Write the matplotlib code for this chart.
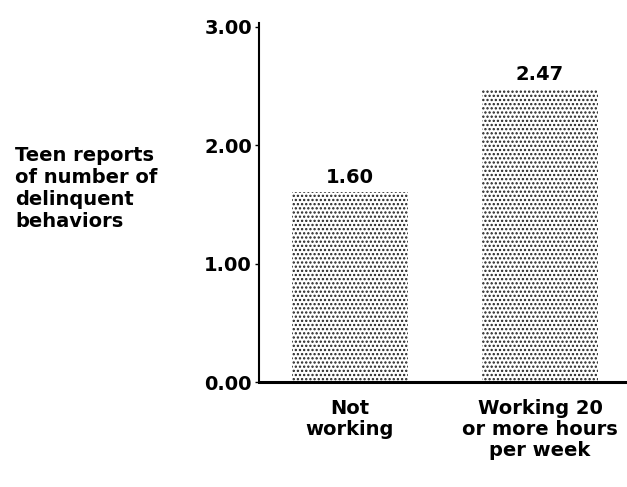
import matplotlib
matplotlib.use("Agg")
import matplotlib.pyplot as plt

categories = ["Not\nworking", "Working 20\nor more hours\nper week"]
values = [1.60, 2.47]
value_labels = ["1.60", "2.47"]
yticks = [0.0, 1.0, 2.0, 3.0]
ytick_labels = ["0.00", "1.00", "2.00", "3.00"]
ylabel = "Teen reports\nof number of\ndelinquent\nbehaviors"

plt.rcParams['font.family'] = ['DejaVu Sans']
plt.rcParams['font.weight'] = 'bold'
plt.rcParams['hatch.linewidth'] = 1.1
plt.rcParams['hatch.color'] = '#222222'

FS = 14

fig = plt.figure(figsize=(6.27, 4.87), dpi=100)
ax = fig.add_axes([0.413, 0.2156, 0.587, 0.7372])

x = list(range(len(categories)))
ax.bar(x, values, width=0.61, color='white', edgecolor='#222222',
       hatch='....', linewidth=0)
for xi, v, lab in zip(x, values, value_labels):
    ax.text(xi, v + 0.045, lab, ha='center', va='bottom', fontsize=FS,
            fontweight='bold')

ax.set_xlim(-0.479, 1.458)
ax.set_ylim(0, 3.03)
ax.set_yticks(yticks)
ax.set_yticklabels(ytick_labels, fontsize=FS, fontweight='bold')
ax.set_xticks(x)
ax.set_xticklabels(categories, fontsize=FS, fontweight='bold', linespacing=1.15)
ax.tick_params(axis='x', length=0, pad=12)
ax.tick_params(axis='y', length=3, width=1, direction='out', pad=2)

for s in ['top', 'right']:
    ax.spines[s].set_visible(False)
ax.spines['left'].set_linewidth(1.5)
ax.spines['bottom'].set_linewidth(2.2)

fig.text(15/627, 1 - 146/487, ylabel, ha='left', va='top', fontsize=FS,
         fontweight='bold', linespacing=1.19)

fig.savefig("out.png", dpi=100)
